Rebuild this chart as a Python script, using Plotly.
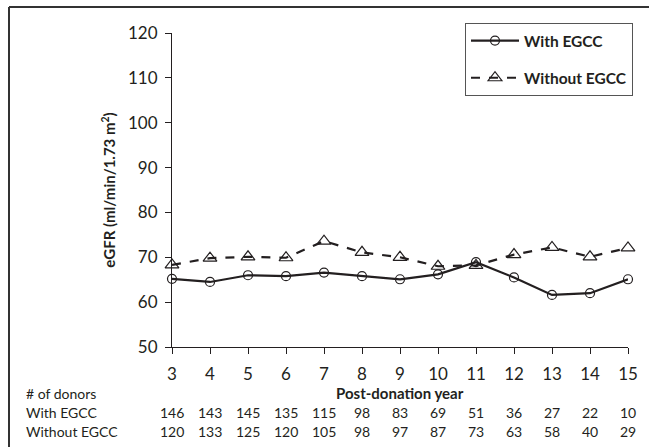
import plotly.graph_objects as go

years = [3, 4, 5, 6, 7, 8, 9, 10, 11, 12, 13, 14, 15]
with_egcc = [65.2, 64.5, 66.0, 65.8, 66.6, 65.8, 65.1, 66.2, 68.9, 65.5, 61.6, 62.0, 65.1]
without_egcc = [68.3, 69.8, 70.1, 69.9, 73.6, 71.1, 70.0, 68.0, 68.2, 70.6, 72.2, 70.1, 72.1]
n_with = [146, 143, 145, 135, 115, 98, 83, 69, 51, 36, 27, 22, 10]
n_without = [120, 133, 125, 120, 105, 98, 97, 87, 73, 63, 58, 40, 29]
y_ticks = [50, 60, 70, 80, 90, 100, 110, 120]

FONT = "Lato, 'Open Sans', sans-serif"
INK = "#231f20"

fig = go.Figure()
fig.add_trace(go.Scatter(
    x=years, y=with_egcc, name="<b>With EGCC</b>", mode="lines+markers",
    legendgroup="a",
    line=dict(color=INK, width=2.2),
    marker=dict(symbol="circle-open", size=9, color=INK, line=dict(width=1.2)),
    cliponaxis=False))
fig.add_trace(go.Scatter(
    x=years, y=without_egcc, name="<b>Without EGCC</b>", mode="lines+markers",
    legendgroup="b",
    line=dict(color=INK, width=2.2, dash="dash"),
    marker=dict(symbol="triangle-up-open", size=12, color=INK, line=dict(width=1.2)),
    cliponaxis=False))

L, R, T, B = 172, 21, 33, 100
W, H = 649, 447
ph = H - T - B
pw = W - L - R

def py(pix):
    return (H - B - pix) / ph

def px(pix):
    return (pix - L) / pw

TF = dict(size=14, family=FONT, color=INK)
annotations = []
annotations.append(dict(x=0.5, y=py(393), xref="paper", yref="paper", text="<b>Post-donation year</b>",
                        showarrow=False, font=dict(size=15, family=FONT, color=INK), yanchor="middle"))
annotations.append(dict(x=px(24), y=py(393), xref="paper", yref="paper", text="# of donors",
                        showarrow=False, xanchor="left", yanchor="middle", font=TF))
annotations.append(dict(x=px(24), y=py(412), xref="paper", yref="paper", text="With EGCC",
                        showarrow=False, xanchor="left", yanchor="middle", font=TF))
annotations.append(dict(x=px(24), y=py(431), xref="paper", yref="paper", text="Without EGCC",
                        showarrow=False, xanchor="left", yanchor="middle", font=TF))
for yr, a, b in zip(years, n_with, n_without):
    annotations.append(dict(x=yr, y=py(412), xref="x", yref="paper", text=str(a), showarrow=False,
                            yanchor="middle", font=TF))
    annotations.append(dict(x=yr, y=py(431), xref="x", yref="paper", text=str(b), showarrow=False,
                            yanchor="middle", font=TF))

frame = dict(color="#333", width=2)
fig.update_layout(
    width=W, height=H,
    margin=dict(l=L, r=R, t=T, b=B),
    paper_bgcolor="white", plot_bgcolor="white",
    font=dict(family=FONT, color=INK, size=16),
    xaxis=dict(range=[3, 15], tickvals=years, ticks="outside", ticklen=6, tickcolor=INK,
               showline=True, linecolor=INK, linewidth=1.2, showgrid=False, zeroline=False,
               ticklabelstandoff=5,
               tickfont=dict(size=17, family=FONT, color=INK)),
    yaxis=dict(range=[50, 120], tickvals=y_ticks, ticks="outside", ticklen=6, tickcolor=INK,
               showline=True, linecolor=INK, linewidth=1.2, showgrid=False, zeroline=False,
               ticklabelstandoff=4,
               tickfont=dict(size=17, family=FONT, color=INK),
               title=dict(text="<b>eGFR (ml/min/1.73 m<sup>2</sup>)</b>", font=dict(size=15, family=FONT, color=INK),
                          standoff=8)),
    legend=dict(x=px(633), y=py(23), xanchor="right", yanchor="top",
                bgcolor="white", bordercolor="#555", borderwidth=1,
                font=dict(size=15.5, family=FONT, color=INK), itemwidth=48,
                traceorder="grouped", tracegroupgap=14),
    annotations=annotations,
    shapes=[
        dict(type="line", xref="paper", yref="paper", x0=px(9), x1=px(W + 20), y0=py(7), y1=py(7), line=frame),
        dict(type="line", xref="paper", yref="paper", x0=px(9), x1=px(9), y0=py(7), y1=py(H + 20), line=frame),
    ],
)

fig.write_html("out.html", config={"displayModeBar": False},
               post_script="document.body.style.margin='0';document.body.style.overflow='hidden';")
